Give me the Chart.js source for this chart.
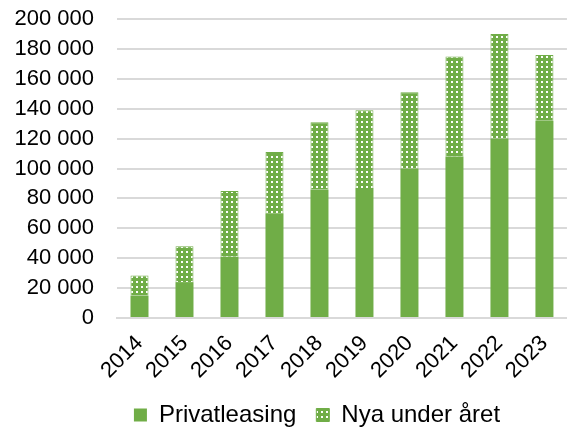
<!DOCTYPE html>
<html lang="sv">
<head>
<meta charset="UTF-8">
<title>Privatleasing</title>
<script src="https://cdn.jsdelivr.net/npm/chart.js"></script>
<style>
  html, body { margin: 0; padding: 0; background: #fff; }
  #wrap { width: 574px; height: 430px; }
</style>
</head>
<body>
<div id="wrap"><canvas id="myChart" width="574" height="430"></canvas></div>
<script>
const years = ['2014','2015','2016','2017','2018','2019','2020','2021','2022','2023'];
const privatleasing = [15000, 24000, 41000, 70000, 86000, 87000, 100000, 108000, 120000, 132000];
const nyaUnderAret = [13500, 24000, 44000, 41000, 45000, 52000, 51000, 67000, 70000, 44000];

const green = '#70ad47';

// dotted fill like the Excel pattern
function makePattern() {
  const c = document.createElement('canvas');
  c.width = 5; c.height = 5;
  const g = c.getContext('2d');
  g.fillStyle = green;
  g.fillRect(0, 0, 5, 5);
  g.fillStyle = '#ffffff';
  g.fillRect(1, 1, 2, 2);
  return g.createPattern(c, 'repeat');
}
const dots = makePattern();

Chart.defaults.font.family = '"Liberation Sans", Arial, sans-serif';
Chart.defaults.font.size = 22;
Chart.defaults.font.lineHeight = 1;
Chart.defaults.color = '#000';

// nudge the legend a bit to the right, like in Excel
const legendShift = {
  id: 'legendShift',
  afterLayout(chart) {
    chart.legend.left += 25;
    chart.legend.right += 25;
  }
};

const data = {
  labels: years,
  datasets: [
    {
      label: 'Privatleasing',
      data: privatleasing,
      backgroundColor: green,
      borderWidth: 0,
      barPercentage: 0.4,
      categoryPercentage: 1
    },
    {
      label: 'Nya under året',
      data: nyaUnderAret,
      backgroundColor: dots,
      borderColor: green,
      borderWidth: 1,
      barPercentage: 0.4,
      categoryPercentage: 1
    }
  ]
};

const config = {
  type: 'bar',
  data: data,
  plugins: [legendShift],
  options: {
    responsive: false,
    animation: false,
    layout: { padding: { left: 10, top: 19, right: 0, bottom: -7 } },
    plugins: {
      legend: {
        position: 'bottom',
        labels: { boxWidth: 13, boxHeight: 13, padding: 20, font: { size: 24 } }
      },
      tooltip: { enabled: false }
    },
    scales: {
      x: {
        stacked: true,
        grid: { display: false, drawTicks: false },
        border: { color: '#d9d9d9', width: 2 },
        ticks: { minRotation: 45, maxRotation: 45, padding: 14, autoSkip: false },
        afterFit: function(s) { s.height = 65; }
      },
      y: {
        stacked: true,
        min: 0,
        max: 200000,
        grid: { color: '#d9d9d9', lineWidth: 2, drawTicks: true, tickLength: 20, tickColor: 'rgba(0,0,0,0)' },
        border: { display: false },
        ticks: {
          stepSize: 20000,
          autoSkip: false,
          padding: 3,
          callback: function(v) {
            return v.toString().replace(/\B(?=(\d{3})+(?!\d))/g, ' ');
          }
        },
        afterFit: function(s) { s.width = 107; }
      }
    }
  }
};

const ctx = document.getElementById('myChart').getContext('2d');
const myChart = new Chart(ctx, config);
</script>
</body>
</html>
